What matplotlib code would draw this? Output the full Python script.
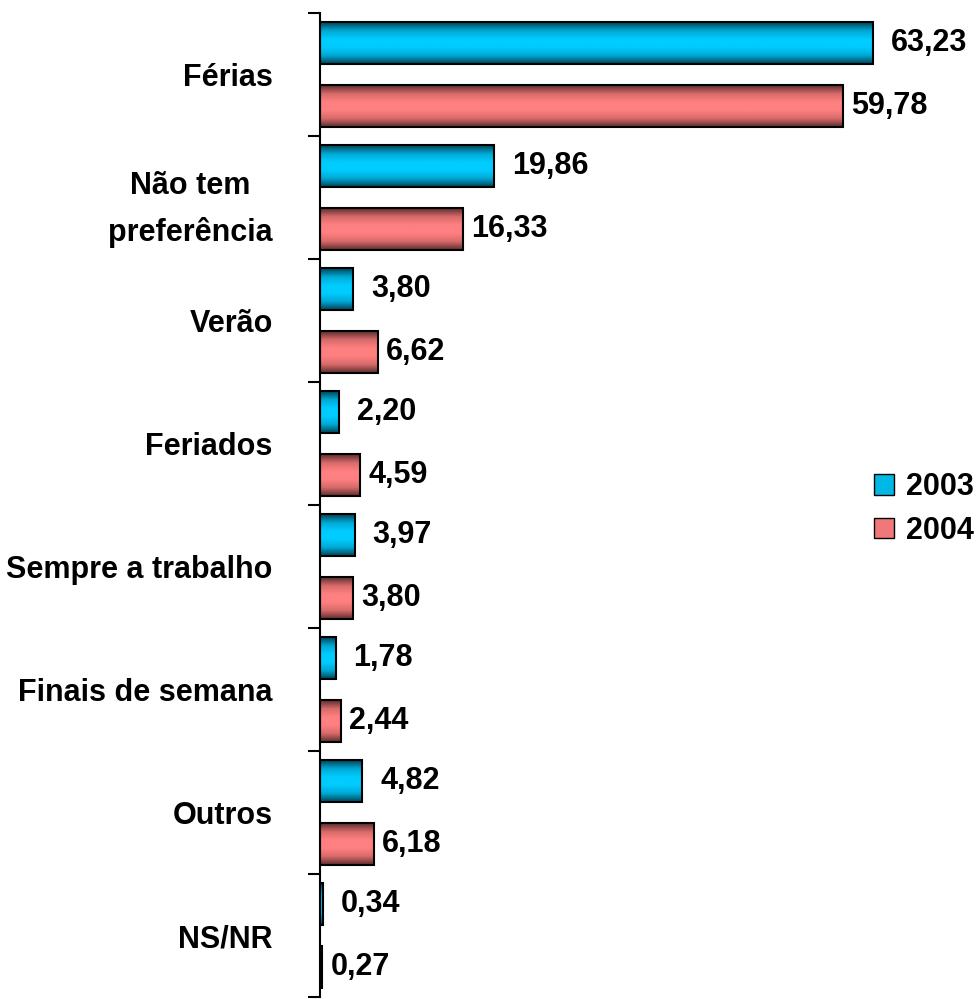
import numpy as np
import matplotlib.pyplot as plt
from matplotlib.colors import LinearSegmentedColormap
from matplotlib.patches import Patch

plt.rcParams['font.family'] = ['Liberation Sans', 'DejaVu Sans']
plt.rcParams['font.weight'] = 'bold'

# Datos
categorias = ['Férias', 'Não tem\npreferência', 'Verão', 'Feriados',
              'Sempre a trabalho', 'Finais de semana', 'Outros', 'NS/NR']
v2003 = [63.23, 19.86, 3.80, 2.20, 3.97, 1.78, 4.82, 0.34]
v2004 = [59.78, 16.33, 6.62, 4.59, 3.80, 2.44, 6.18, 0.27]
etiq2003 = ['63,23', '19,86', '3,80', '2,20', '3,97', '1,78', '4,82', '0,34']
etiq2004 = ['59,78', '16,33', '6,62', '4,59', '3,80', '2,44', '6,18', '0,27']

cmap_azul = LinearSegmentedColormap.from_list('azul', ['#004458', '#00a8d4', '#00ccff', '#00ccff', '#00a8d4', '#004458'])
cmap_rojo = LinearSegmentedColormap.from_list('rojo', ['#5e2e2e', '#d86a6a', '#ff8080', '#ff8080', '#d86a6a', '#5e2e2e'])

fig = plt.figure(figsize=(9.77, 9.99), dpi=100)
ax = fig.add_axes([320/977, 2/999, 612/977, 984/999])

y = np.arange(len(categorias))
h = 0.34
off = 0.256

b1 = ax.barh(y - off, v2003, height=h, color='#00ccff', edgecolor='black', linewidth=1.5, zorder=3)
b2 = ax.barh(y + off, v2004, height=h, color='#ff8080', edgecolor='black', linewidth=1.5, zorder=3)

# degradado en cada barra
grad = np.linspace(0, 1, 64).reshape(-1, 1)
for barras, cm in [(b1, cmap_azul), (b2, cmap_rojo)]:
    for b in barras:
        x0, yb = b.get_x(), b.get_y()
        w, hh = b.get_width(), b.get_height()
        im = ax.imshow(grad, cmap=cm, aspect='auto', extent=[x0, x0 + w, yb + hh, yb],
                       zorder=2.5, interpolation='bilinear')
        im.set_clip_path(b)
        b.set_facecolor('none')

# etiquetas de valores
for i in range(len(categorias)):
    ax.annotate(etiq2003[i], (v2003[i], y[i] - off), xytext=(18, 0),
                textcoords='offset pixels', va='center', ha='left', fontsize=22, fontweight='bold')
    ax.annotate(etiq2004[i], (v2004[i], y[i] + off), xytext=(8, 0),
                textcoords='offset pixels', va='center', ha='left', fontsize=22, fontweight='bold')

ax.set_xlim(0, 70)
ax.set_ylim(len(categorias) - 0.5, -0.5)

ax.set_yticks(np.arange(-0.5, len(categorias) + 0.5, 1))
ax.set_yticklabels([])
ax.tick_params(axis='y', which='major', length=9, width=1.5, direction='out')
ax.set_yticks(y, minor=True)
ax.set_yticklabels(categorias, minor=True, fontsize=22, fontweight='bold', linespacing=1.7,
                   ha='right', multialignment='center')
ax.tick_params(axis='y', which='minor', length=0, pad=34)
ax.set_xticks([])

for s in ['top', 'right', 'bottom']:
    ax.spines[s].set_visible(False)
ax.spines['left'].set_linewidth(1.5)

leg_handles = [Patch(facecolor='#00b8e6', edgecolor='black', label='2003'),
               Patch(facecolor='#f07878', edgecolor='black', label='2004')]
fig.legend(handles=leg_handles, loc='center right', bbox_to_anchor=(974/977, 1 - 509/999),
           frameon=False, prop={'size': 22, 'weight': 'bold'}, borderpad=0, borderaxespad=0,
           handlelength=0.65, handleheight=0.65, handletextpad=0.4, labelspacing=0.45)

fig.savefig('out.png', dpi=100)
